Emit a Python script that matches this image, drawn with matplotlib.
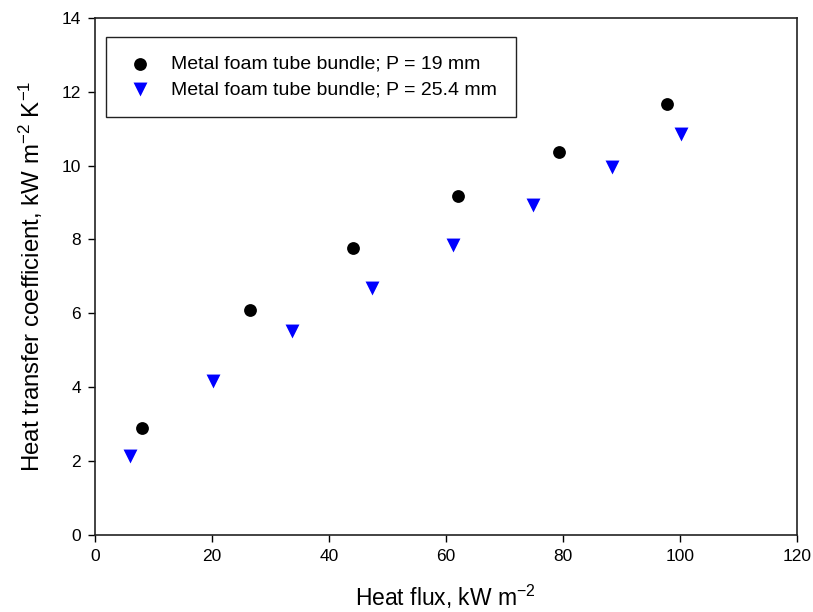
import matplotlib
matplotlib.use("Agg")
import matplotlib.pyplot as plt

plt.rcParams['font.family'] = ['Liberation Sans', 'DejaVu Sans']
plt.rcParams['mathtext.fontset'] = 'custom'
plt.rcParams['mathtext.rm'] = 'Liberation Sans'
plt.rcParams['mathtext.it'] = 'Liberation Sans:italic'

x19 = [8.0, 26.5, 44.1, 62.0, 79.3, 97.8]
h19 = [2.90, 6.09, 7.77, 9.18, 10.37, 11.67]
x25 = [6.0, 20.2, 33.7, 47.4, 61.2, 74.9, 88.4, 100.2]
h25 = [2.14, 4.17, 5.52, 6.69, 7.85, 8.94, 9.96, 10.86]

labels = ["Metal foam tube bundle; P = 19 mm", "Metal foam tube bundle; P = 25.4 mm"]

fig = plt.figure(figsize=(8.13, 6.12), dpi=100)
ax = fig.add_axes([0.117, 0.126, 0.863, 0.845])
ax.scatter(x19, h19, marker='o', s=85, color='black', label=labels[0], zorder=3, linewidths=0)
ax.scatter(x25, h25, marker='v', s=100, color='blue', label=labels[1], zorder=3, linewidths=0)

ax.set_xlim(0, 120)
ax.set_ylim(0, 14)
ax.set_xticks(range(0, 121, 20))
ax.set_yticks(range(0, 15, 2))
ax.tick_params(direction='out', length=5, width=1, labelsize=12.5, top=False, right=False, pad=5)
for s in ax.spines.values():
    s.set_linewidth(1.2)
    s.set_color('#222222')

ax.set_xlabel(r'Heat flux, kW m$^{-2}$', fontsize=16.5, labelpad=14)
ax.set_ylabel(r'Heat transfer coefficient, kW m$^{-2}$ K$^{-1}$', fontsize=17.3, labelpad=12)

leg = ax.legend(loc='upper left', bbox_to_anchor=(0.0157, 0.963), fontsize=14,
                frameon=True, fancybox=False, edgecolor='#222222', framealpha=1,
                handlelength=1.6, handletextpad=0.8, borderpad=0.95, labelspacing=0.4,
                borderaxespad=0)
leg.get_frame().set_linewidth(1.0)

fig.savefig('out.png', dpi=100)
